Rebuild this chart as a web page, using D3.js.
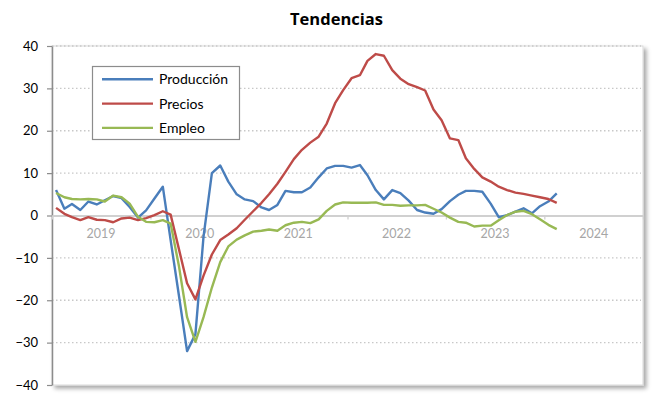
<!DOCTYPE html>
<html>
<head>
<meta charset="utf-8">
<script src="https://cdn.jsdelivr.net/npm/d3@7"></script>
<style>
  html, body { margin: 0; padding: 0; background: #fff; }
  svg { display: block; font-family: Lato, "Open Sans", sans-serif; }
</style>
</head>
<body>
<svg id="chart" width="653" height="394"></svg>
<script>
// Monthly series, January 2019 to February 2024
const startYear = 2019;
const produccion = [
  6.0, 1.6, 2.7, 1.3, 3.3, 2.6, 3.6, 4.6, 4.1, 2.0, -0.5, 1.2,
  4.0, 6.8, -5.8, -19, -32, -28, -5, 10, 11.8, 8, 5, 3.8,
  3.4, 1.9, 1.3, 2.5, 5.8, 5.5, 5.5, 6.6, 9, 11.1, 11.7, 11.7,
  11.3, 11.9, 9.5, 6, 3.8, 6.0, 5.3, 3.5, 1.3, 0.7, 0.4, 1.5,
  3.4, 4.9, 5.8, 5.8, 5.6, 2.8, -0.4, 0.1, 0.9, 1.7, 0.5, 2.2,
  3.3, 5.2
];
const precios = [
  1.8, 0.4, -0.4, -1.1, -0.4, -1.0, -1.1, -1.6, -0.7, -0.5, -1.1, -0.6,
  0.1, 1.0, 0.2, -8, -16, -19.8, -14.2, -9.2, -5.8, -4.5, -3.0, -1.0,
  1.0, 3.0, 5.0, 7.5, 10.3, 13.3, 15.5, 17.2, 18.6, 21.7, 26.5, 29.6,
  32.4, 33.1, 36.5, 38.1, 37.7, 34.3, 32.3, 31, 30.3, 29.5, 25, 22.5,
  18.2, 17.8, 13.5, 11, 9, 8.0, 6.8, 6.0, 5.4, 5.1, 4.7, 4.3,
  3.9, 3.0
];
const empleo = [
  5.3, 4.3, 3.9, 3.8, 3.9, 3.8, 3.3, 4.7, 4.3, 2.8, -0.3, -1.5,
  -1.6, -1.1, -1.9, -12, -24, -29.8, -24, -17, -11, -7.3, -5.7, -4.7,
  -3.8, -3.6, -3.3, -3.6, -2.3, -1.7, -1.5, -1.8, -0.9, 1.1, 2.6, 3.1,
  3.0, 3.0, 3.0, 3.1, 2.5, 2.5, 2.3, 2.4, 2.4, 2.5, 1.6, 0.7,
  -0.5, -1.5, -1.7, -2.6, -2.4, -2.4, -1.1, 0.1, 0.9, 1.1, 0.3, -0.9,
  -2.2, -3.2
];
const yearLabels = ["2019", "2020", "2021", "2022", "2023", "2024"];
const yTicks = [-40, -30, -20, -10, 0, 10, 20, 30, 40];
const seriesNames = ["Producción", "Precios", "Empleo"];
const seriesColors = ["#4A7EBB", "#BE4B48", "#98B954"];

const svg = d3.select("#chart");
const plot = { left: 52, right: 643, top: 46, bottom: 385 };

// point i sits in the middle of its month
const monthDate = i => new Date(startYear, i, 16);

const x = d3.scaleTime()
  .domain([new Date(startYear, 0, 1), new Date(startYear + yearLabels.length, 0, 1)])
  .range([plot.left, plot.right]);
const y = d3.scaleLinear().domain([-40, 40]).range([plot.bottom, plot.top]);

// plot area with a soft drop shadow
const defs = svg.append("defs");
const f = defs.append("filter").attr("id", "shadow")
  .attr("x", "-5%").attr("y", "-5%").attr("width", "115%").attr("height", "115%");
f.append("feDropShadow").attr("dx", 3).attr("dy", 3).attr("stdDeviation", 2)
  .attr("flood-color", "#000").attr("flood-opacity", 0.35);

svg.append("rect")
  .attr("x", plot.left).attr("y", plot.top)
  .attr("width", plot.right - plot.left).attr("height", plot.bottom - plot.top)
  .attr("fill", "#fff").attr("stroke", "#d9d9d9").attr("stroke-width", 1)
  .attr("filter", "url(#shadow)");

// dotted gridlines
svg.append("g").selectAll("line")
  .data(yTicks.filter(t => t !== 0 && t !== -40))
  .join("line")
  .attr("x1", plot.left).attr("x2", plot.right - 2)
  .attr("y1", d => y(d)).attr("y2", d => y(d))
  .attr("stroke", "#c8c8c8").attr("stroke-width", 1.3)
  .attr("stroke-dasharray", "1.5,2.5");

// y axis
const yAxis = svg.append("g")
  .attr("transform", `translate(${plot.left},0)`)
  .call(d3.axisLeft(y).tickValues(yTicks).tickSize(5).tickSizeOuter(0).tickPadding(9));
yAxis.select(".domain").attr("stroke", "#8c8c8c").attr("stroke-width", 1.5);
yAxis.selectAll(".tick line").attr("stroke", "#8c8c8c").attr("stroke-width", 1.2);
yAxis.selectAll("text").attr("font-size", 13).attr("fill", "#000")
  .attr("font-family", "Lato, sans-serif");

// x axis on the zero line, year labels centred in each year
const yearStarts = d3.range(yearLabels.length + 1).map(k => new Date(startYear + k, 0, 1));
const xAxis = svg.append("g")
  .attr("transform", `translate(0,${y(0)})`)
  .call(d3.axisBottom(x).tickValues(yearStarts).tickSize(4).tickSizeOuter(0).tickFormat(""));
xAxis.select(".domain").attr("stroke", "#d0d0d0").attr("stroke-width", 2);
xAxis.selectAll(".tick line").attr("stroke", "#d0d0d0").attr("stroke-width", 1.3);

svg.append("g").selectAll("text")
  .data(yearLabels)
  .join("text")
  .attr("x", (d, k) => x(new Date(startYear + k, 6, 2)))
  .attr("y", y(0) + 22)
  .attr("text-anchor", "middle")
  .attr("font-size", 12.5)
  .attr("fill", "#a6a6a6")
  .text(d => d);

// series lines
const line = d3.line()
  .x((d, i) => x(monthDate(i)))
  .y(d => y(d));

[produccion, precios, empleo].forEach((s, k) => {
  svg.append("path")
    .datum(s)
    .attr("d", line)
    .attr("fill", "none")
    .attr("stroke", seriesColors[k])
    .attr("stroke-width", 2.4)
    .attr("stroke-linejoin", "round");
});

// legend
const lg = svg.append("g");
lg.append("rect")
  .attr("x", 92.5).attr("y", 66.5).attr("width", 147).attr("height", 73)
  .attr("fill", "#fff").attr("stroke", "#8c8c8c").attr("stroke-width", 1.2);
seriesNames.forEach((name, k) => {
  const cy = 79.3 + k * 24.3;
  lg.append("line")
    .attr("x1", 102).attr("x2", 153).attr("y1", cy).attr("y2", cy)
    .attr("stroke", seriesColors[k]).attr("stroke-width", 2.4);
  lg.append("text")
    .attr("x", 159).attr("y", cy + 5)
    .attr("font-size", 14).attr("fill", "#000")
    .text(name);
});

// title
svg.append("text")
  .attr("x", 336.5).attr("y", 25)
  .attr("text-anchor", "middle")
  .attr("font-family", "'Open Sans', sans-serif")
  .attr("font-size", 16.5).attr("font-weight", "bold").attr("fill", "#000")
  .text("Tendencias");
</script>
</body>
</html>
